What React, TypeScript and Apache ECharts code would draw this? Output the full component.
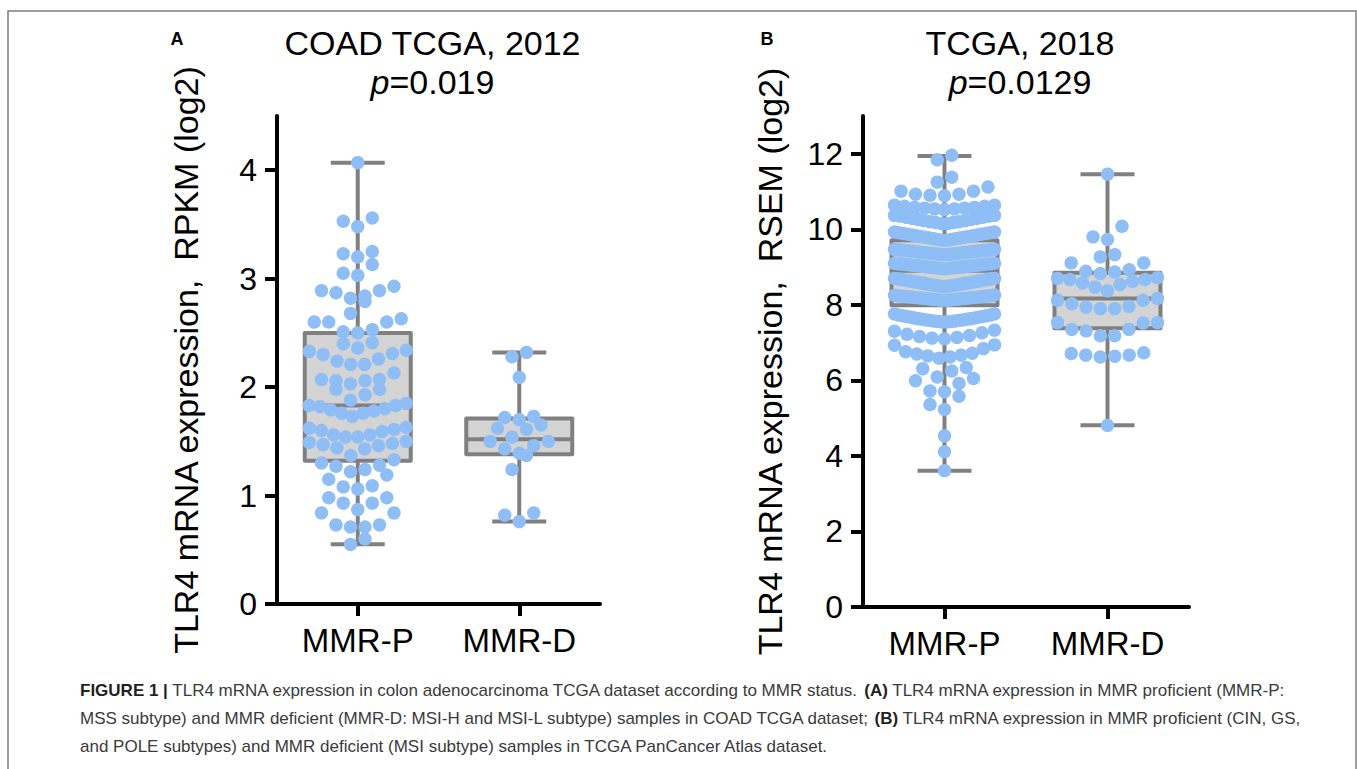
import React, { useEffect, useRef } from "react";
import * as echarts from "echarts";

// ---------- data ----------
const categories = ["MMR-P", "MMR-D"];

// Panel A: COAD TCGA, 2012 — TLR4 mRNA expression, RPKM (log2)
const coadMMRP = [
  4.07, 3.56, 3.53, 3.48, 3.25, 3.23, 3.2, 3.13, 3.05, 3.03, 2.93, 2.89, 2.89, 2.87, 2.84, 2.82, 2.79,
  2.68, 2.63, 2.6, 2.6, 2.6, 2.53, 2.51, 2.5, 2.41, 2.4, 2.36, 2.34, 2.33, 2.31, 2.3, 2.26, 2.24, 2.21,
  2.21, 2.13, 2.07, 2.07, 2.06, 2.06, 2.03, 1.98, 1.98, 1.93, 1.88, 1.85, 1.83, 1.83, 1.82, 1.8, 1.79,
  1.78, 1.76, 1.76, 1.73, 1.63, 1.62, 1.61, 1.6, 1.59, 1.56, 1.56, 1.54, 1.54, 1.5, 1.49, 1.48, 1.47,
  1.46, 1.44, 1.43, 1.37, 1.33, 1.3, 1.28, 1.27, 1.24, 1.22, 1.19, 1.15, 1.09, 1.08, 1.06, 0.98, 0.98,
  0.93, 0.93, 0.87, 0.84, 0.84, 0.73, 0.73, 0.71, 0.71, 0.6, 0.55,
];
const coadMMRD = [
  2.32, 2.28, 2.09, 1.73, 1.72, 1.7, 1.65, 1.62, 1.61, 1.54, 1.5, 1.5, 1.46, 1.43, 1.39, 1.37, 1.24,
  0.84, 0.82, 0.76,
];
// [min, Q1, median, Q3, max]
const coadBoxMMRP = [0.55, 1.32, 1.83, 2.5, 4.07];
const coadBoxMMRD = [0.76, 1.38, 1.52, 1.71, 2.32];
const coadTicks = [0, 1, 2, 3, 4];

// Panel B: TCGA, 2018 — TLR4 mRNA expression, RSEM (log2)
const tcgaMMRP = [
  3.61, 4.11, 4.53, 5.23, 5.36, 5.58, 5.7, 5.72, 5.92, 5.99, 6.05, 6.09, 6.25, 6.31, 6.34,
  6.59, 6.62, 6.65, 6.67, 6.7, 6.72, 6.76, 6.84, 6.93, 6.94,
  7.1, 7.12, 7.14, 7.16, 7.19, 7.22, 7.26, 7.3, 7.33,
  7.55, 7.55, 7.56, 7.56, 7.57, 7.57, 7.59, 7.59, 7.6, 7.6, 7.62, 7.62, 7.63, 7.63, 7.65, 7.65,
  7.67, 7.67, 7.69, 7.69, 7.71, 7.71, 7.73, 7.73, 7.76, 7.76,
  8.12, 8.12, 8.13, 8.13, 8.14, 8.14, 8.15, 8.15, 8.16, 8.16, 8.17, 8.17, 8.18, 8.18, 8.19, 8.19,
  8.2, 8.2, 8.21, 8.21, 8.22, 8.22, 8.23, 8.23, 8.24, 8.24, 8.25, 8.26,
  8.49, 8.49, 8.5, 8.5, 8.51, 8.51, 8.52, 8.52, 8.54, 8.54, 8.55, 8.55, 8.57, 8.57, 8.58, 8.58,
  8.6, 8.6, 8.61, 8.61, 8.63, 8.63, 8.64, 8.64, 8.66, 8.66, 8.67, 8.67, 8.69, 8.69, 8.7, 8.7,
  8.96, 8.96, 8.97, 8.97, 8.98, 8.98, 8.99, 8.99, 9.0, 9.0, 9.01, 9.01, 9.02, 9.02, 9.03, 9.03,
  9.04, 9.04, 9.05, 9.05, 9.06, 9.06, 9.07, 9.07, 9.08, 9.08, 9.09, 9.09, 9.1, 9.1,
  9.33, 9.33, 9.34, 9.34, 9.35, 9.35, 9.36, 9.36, 9.37, 9.37, 9.38, 9.38, 9.39, 9.39, 9.4, 9.4,
  9.41, 9.41, 9.42, 9.42, 9.43, 9.43, 9.44, 9.44, 9.45, 9.45, 9.46, 9.46, 9.47, 9.47,
  9.71, 9.71, 9.73, 9.73, 9.75, 9.75, 9.77, 9.77, 9.79, 9.79, 9.81, 9.81, 9.83, 9.83, 9.85, 9.85,
  9.87, 9.87, 9.89, 9.89, 9.91, 9.91, 9.93, 9.93,
  10.15, 10.15, 10.18, 10.18, 10.2, 10.2, 10.23, 10.23, 10.26, 10.26, 10.29, 10.29, 10.32, 10.32,
  10.35, 10.35, 10.37, 10.37,
  10.52, 10.54, 10.54, 10.56, 10.56, 10.58, 10.58, 10.61, 10.61, 10.64, 10.64,
  10.89, 10.9, 10.93, 10.93, 11.01, 11.01, 11.12,
  11.25, 11.38, 11.84, 11.96,
];
const tcgaMMRD = [
  11.46, 10.08, 9.8, 9.73, 9.33, 9.27, 9.11, 9.11, 8.93, 8.89, 8.87, 8.83, 8.72, 8.7, 8.67, 8.67,
  8.62, 8.58, 8.54, 8.47, 8.37, 8.17, 8.12, 8.12, 8.03, 7.96, 7.94, 7.9, 7.9, 7.53, 7.53, 7.52, 7.35,
  7.35, 7.31, 7.18, 7.18, 6.73, 6.71, 6.67, 6.67, 6.64, 6.62, 4.81,
];
const tcgaBoxMMRP = [3.61, 7.99, 8.9, 9.71, 11.94];
const tcgaBoxMMRD = [4.81, 7.38, 8.17, 8.85, 11.46];
const tcgaTicks = [0, 2, 4, 6, 8, 10, 12];

// ---------- style / layout ----------
const FONT = '"Liberation Sans", Arial, Helvetica, sans-serif';
const DOT = "#8fbef6";
const BOX_FILL = "#d4d4d4";
const BOX_LINE = "#808080";

const GRID_A = { left: 277, top: 116, width: 323, height: 488, yMax: 4.5 };
const GRID_B = { left: 863, top: 116, width: 326, height: 491, yMax: 13 };

// GraphPad-like column scatter: rows of nearby values, smallest value in the centre
function swarmOffsets(values: number[], pxPerUnit: number, rowPx: number, slotPx: number, maxSpanPx: number) {
  const order = values.map((_, i) => i).sort((a, b) => values[a] - values[b]);
  const offsets = new Array(values.length).fill(0);
  let row: number[] = [];
  let start = 0;
  const flush = () => {
    const n = row.length;
    const s = n > 1 ? Math.min(slotPx, maxSpanPx / (n - 1)) : 0;
    row.forEach((idx, k) => {
      let m: number;
      let sign: number;
      if (n % 2 === 1) {
        m = Math.ceil(k / 2);
        sign = k % 2 === 1 ? -1 : 1;
      } else {
        m = Math.floor(k / 2) + 0.5;
        sign = k % 2 === 0 ? -1 : 1;
      }
      offsets[idx] = sign * m * s;
    });
    row = [];
  };
  for (const idx of order) {
    const v = values[idx];
    if (row.length && (v - start) * pxPerUnit > rowPx + 1e-9) flush();
    if (!row.length) start = v;
    row.push(idx);
  }
  flush();
  return offsets;
}

function dotData(groups: number[][], grid: typeof GRID_A, rowPx: number, maxSpan: number) {
  const ppu = grid.height / grid.yMax;
  const out: number[][] = [];
  groups.forEach((vals, cat) => {
    const off = swarmOffsets(vals, ppu, rowPx, 14.5, maxSpan);
    vals.forEach((v, i) => out.push([cat, v, off[i]]));
  });
  return out;
}

const boxRender = (params: any, api: any) => {
  const cat = api.value(0);
  const pMin = api.coord([cat, api.value(1)]);
  const pQ1 = api.coord([cat, api.value(2)]);
  const pMed = api.coord([cat, api.value(3)]);
  const pQ3 = api.coord([cat, api.value(4)]);
  const pMax = api.coord([cat, api.value(5)]);
  const cx = pMin[0];
  const hb = 53;
  const hc = 27;
  const ls = { stroke: BOX_LINE, lineWidth: 4 };
  return {
    type: "group",
    children: [
      { type: "line", shape: { x1: cx, y1: pMin[1], x2: cx, y2: pQ1[1] }, style: ls },
      { type: "line", shape: { x1: cx, y1: pQ3[1], x2: cx, y2: pMax[1] }, style: ls },
      { type: "line", shape: { x1: cx - hc, y1: pMin[1], x2: cx + hc, y2: pMin[1] }, style: ls },
      { type: "line", shape: { x1: cx - hc, y1: pMax[1], x2: cx + hc, y2: pMax[1] }, style: ls },
      {
        type: "rect",
        shape: { x: cx - hb, y: pQ3[1], width: hb * 2, height: pQ1[1] - pQ3[1] },
        style: { fill: BOX_FILL, stroke: BOX_LINE, lineWidth: 4, lineJoin: "round" },
      },
      { type: "line", shape: { x1: cx - hb, y1: pMed[1], x2: cx + hb, y2: pMed[1] }, style: ls },
    ],
  };
};

const dotRender = (params: any, api: any) => {
  const c = api.coord([api.value(0), api.value(1)]);
  return {
    type: "circle",
    shape: { cx: c[0] + api.value(2), cy: c[1], r: 6.7 },
    style: { fill: DOT },
  };
};

function xAxisOf(gridIndex: number) {
  return {
    type: "category",
    gridIndex,
    data: categories,
    axisLine: { show: true, lineStyle: { color: "#000", width: 4 } },
    axisTick: { show: true, alignWithLabel: true, length: 12, lineStyle: { color: "#000", width: 4 } },
    axisLabel: { fontSize: 33, color: "#000", fontFamily: FONT, margin: 20 },
    splitLine: { show: false },
  };
}

function yAxisOf(gridIndex: number, max: number, interval: number, ticks: number[], name: string, nameGap: number) {
  return {
    type: "value",
    gridIndex,
    min: 0,
    max,
    interval,
    name,
    nameLocation: "middle",
    nameGap,
    nameTextStyle: { fontSize: 34, color: "#000", fontFamily: FONT },
    axisLine: { show: true, lineStyle: { color: "#000", width: 4 } },
    axisTick: { show: true, length: 12, customValues: ticks, lineStyle: { color: "#000", width: 4 } },
    axisLabel: { customValues: ticks, fontSize: 32, color: "#000", fontFamily: FONT, margin: 20 },
    splitLine: { show: false },
  };
}

function titleTexts(cx: number, line1: string, pText: string) {
  return [
    {
      type: "text",
      x: cx,
      y: 42.5,
      style: { text: line1, fontSize: 34, fontFamily: FONT, fill: "#000", align: "center", verticalAlign: "middle" },
    },
    {
      type: "text",
      x: cx,
      y: 82,
      style: {
        text: "{i|p}=" + pText,
        fontSize: 34,
        fontFamily: FONT,
        fill: "#000",
        align: "center",
        verticalAlign: "middle",
        rich: { i: { fontStyle: "italic", fontSize: 34, fontFamily: FONT, fill: "#000" } },
      },
    },
  ];
}

const CAPTION_SIZE = 17;
const captionRich = {
  b: { fontWeight: "bold", fontSize: CAPTION_SIZE, fontFamily: FONT, fill: "#231f20" },
};

function captionLine(y: number, text: string) {
  return {
    type: "text",
    x: 80,
    y,
    style: {
      text,
      fontSize: CAPTION_SIZE,
      fontFamily: FONT,
      fill: "#3a3a3a",
      verticalAlign: "middle",
      rich: captionRich,
    },
  };
}

export default function App() {
  const ref = useRef<HTMLDivElement>(null);
  useEffect(() => {
    if (!ref.current) return;
    const chart = echarts.init(ref.current, undefined, { renderer: "svg" });
    const option: any = {
      animation: false,
      backgroundColor: "#ffffff",
      grid: [
        { left: GRID_A.left, top: GRID_A.top, width: GRID_A.width, height: GRID_A.height, outerBoundsMode: "none" },
        { left: GRID_B.left, top: GRID_B.top, width: GRID_B.width, height: GRID_B.height, outerBoundsMode: "none" },
      ],
      xAxis: [xAxisOf(0), xAxisOf(1)],
      yAxis: [
        yAxisOf(0, GRID_A.yMax, 1, coadTicks, "TLR4 mRNA expression, \u00a0RPKM (log2)", 74),
        yAxisOf(1, GRID_B.yMax, 1, tcgaTicks, "TLR4 mRNA expression, \u00a0RSEM (log2)", 76),
      ],
      series: [
        {
          type: "custom",
          xAxisIndex: 0,
          yAxisIndex: 0,
          z: 2,
          clip: false,
          renderItem: boxRender,
          encode: { x: 0, y: [1, 2, 3, 4, 5] },
          data: [[0, ...coadBoxMMRP], [1, ...coadBoxMMRD]],
        },
        {
          type: "custom",
          xAxisIndex: 0,
          yAxisIndex: 0,
          z: 3,
          clip: false,
          renderItem: dotRender,
          encode: { x: 0, y: 1 },
          data: dotData([coadMMRP, coadMMRD], GRID_A, 15, 97),
        },
        {
          type: "custom",
          xAxisIndex: 1,
          yAxisIndex: 1,
          z: 2,
          clip: false,
          renderItem: boxRender,
          encode: { x: 0, y: [1, 2, 3, 4, 5] },
          data: [[0, ...tcgaBoxMMRP], [1, ...tcgaBoxMMRD]],
        },
        {
          type: "custom",
          xAxisIndex: 1,
          yAxisIndex: 1,
          z: 3,
          clip: false,
          renderItem: dotRender,
          encode: { x: 0, y: 1 },
          data: dotData([tcgaMMRP, tcgaMMRD], GRID_B, 13.5, 100),
        },
      ],
      graphic: [
        {
          type: "rect",
          silent: true,
          z: -10,
          shape: { x: 8, y: 11, width: 1348, height: 800 },
          style: { fill: "none", stroke: "#7f7f7f", lineWidth: 1.5 },
        },
        {
          type: "text",
          x: 177,
          y: 38.5,
          style: { text: "A", fontSize: 18, fontWeight: "bold", fontFamily: FONT, fill: "#000", align: "center", verticalAlign: "middle" },
        },
        {
          type: "text",
          x: 767,
          y: 38.5,
          style: { text: "B", fontSize: 18, fontWeight: "bold", fontFamily: FONT, fill: "#000", align: "center", verticalAlign: "middle" },
        },
        ...titleTexts(432.5, "COAD TCGA, 2012", "0.019"),
        ...titleTexts(1020, "TCGA, 2018", "0.0129"),
        captionLine(
          690,
          "{b|FIGURE 1 |} TLR4 mRNA expression in colon adenocarcinoma TCGA dataset according to MMR status. {b|(A)} TLR4 mRNA expression in MMR proficient (MMR-P:"
        ),
        captionLine(
          718,
          "MSS subtype) and MMR deficient (MMR-D: MSI-H and MSI-L subtype) samples in COAD TCGA dataset; {b|(B)} TLR4 mRNA expression in MMR proficient (CIN, GS,"
        ),
        captionLine(746, "and POLE subtypes) and MMR deficient (MSI subtype) samples in TCGA PanCancer Atlas dataset."),
      ],
    };
    chart.setOption(option);
    return () => chart.dispose();
  }, []);
  return <div ref={ref} style={{ position: "absolute", left: 0, top: 0, width: 1357, height: 769 }} />;
}
